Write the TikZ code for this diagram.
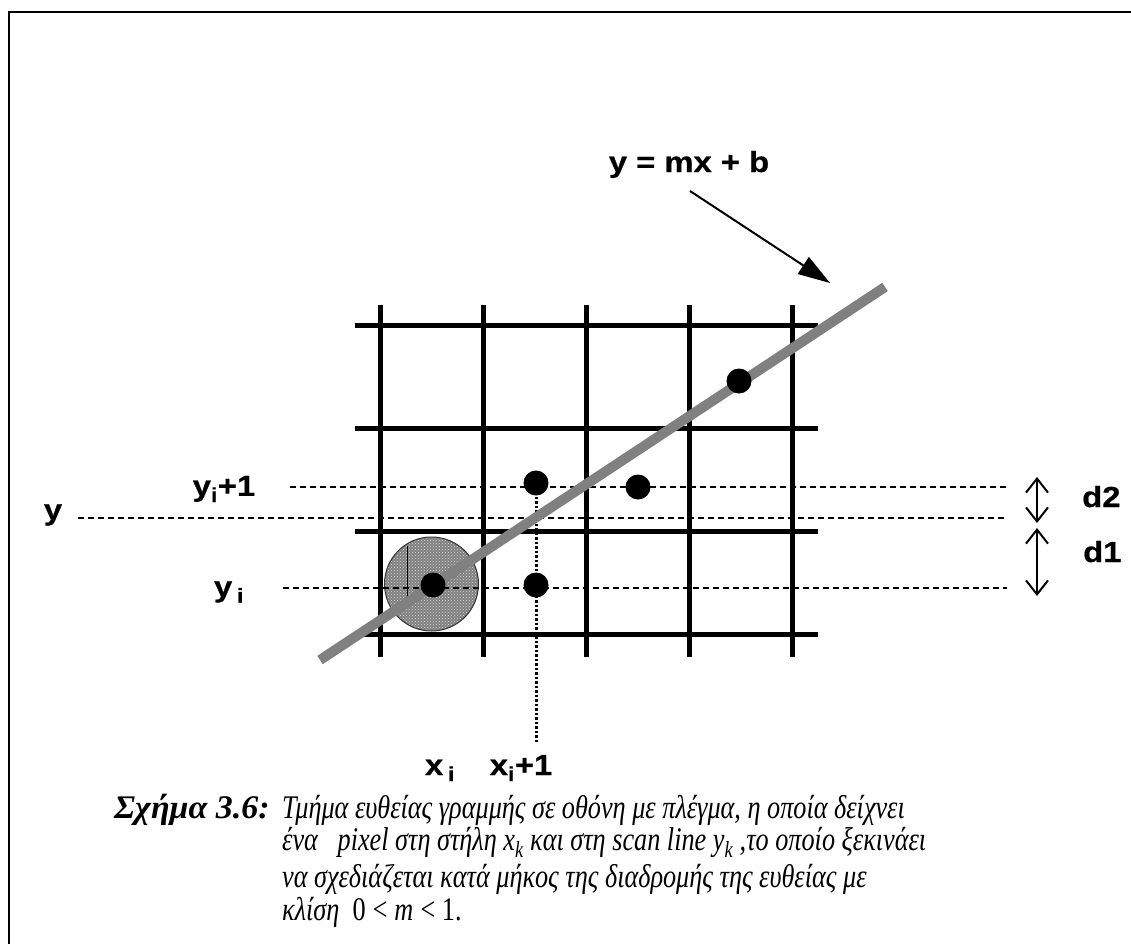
\documentclass[tikz,border=0pt]{standalone}
\usepackage{fontspec}
\setmainfont{Liberation Serif}
\newfontfamily\labfont[FakeStretch=1.13, BoldFeatures={FakeBold=0.6}]{Liberation Sans}
\newfontfamily\capfont[FakeStretch=0.795]{Liberation Serif}
\newfontfamily\capboldfont[FakeStretch=1.03]{Liberation Serif}
\usetikzlibrary{arrows.meta,patterns}
\begin{document}
\begin{tikzpicture}[x=1pt,y=-1pt,
  labtext/.style={font=\labfont\bfseries\fontsize{29}{33}\selectfont, inner sep=0pt},
  captext/.style={font=\capfont\itshape\fontsize{33}{37}\selectfont, anchor=base west, inner sep=0pt},
  capbold/.style={font=\capboldfont\bfseries\itshape\fontsize{33}{37}\selectfont, anchor=base west, inner sep=0pt},
  gridline/.style={line width=5pt},
  guide/.style={line width=1.3pt, dash pattern=on 6pt off 4pt},
  dotnode/.style={circle, fill=black, minimum size=25pt, inner sep=0pt},
  dblarrow/.style={line width=2pt, {Straight Barb[length=14pt,width=22pt]}-{Straight Barb[length=14pt,width=22pt]}},
  frameline/.style={line width=2.6pt}]
\useasboundingbox (0,0) rectangle (1131,944);
% frame
\draw[frameline] (1131,12) -- (9,12) -- (9,944);
% grid
\foreach \x in {380,483,586,689,792} \draw[gridline] (\x,305) -- (\x,657);
\foreach \y in {325,428,531,634} \draw[gridline] (355,\y) -- (818,\y);
% shaded pixel
\fill[black!50] (431.5,584) circle (47);
\fill[pattern=crosshatch dots, pattern color=black!15] (431.5,584) circle (47);
\draw[line width=1pt, black!80] (431.5,584) circle (47);
\draw[line width=0.8pt] (407,546) -- (407,598);
% guide lines
\draw[guide] (290,487) -- (1007,487);
\draw[guide] (78,518) -- (1007,518);
\draw[guide] (283,588) -- (1007,588);
% dotted vertical
\draw[line width=3pt, dash pattern=on 2.5pt off 2pt] (536,483) -- (536,742);
% scan line
\draw[line width=10pt, gray] (320,660) -- (885,287);
% pixels
\node[dotnode] (p0) at (433,585) {};
\node[dotnode] (p1) at (536,585) {};
\node[dotnode] (p2) at (536,483) {};
\node[dotnode] (p3) at (638,487) {};
\node[dotnode] (p4) at (739,381) {};
% equation label and arrow
\node[labtext, anchor=base] (eq) at (689,172) {y = mx + b};
\coordinate (astart) at (690,191);
\coordinate (tip) at (830,283);
\draw[line width=2pt, -{Triangle[length=32pt,width=20pt]}] (astart) -- (tip);
% axis labels
\node[labtext] (ylab) at (53,515) {y};
\node[labtext] (yi1) at (224,489) {y\textsubscript{i}+1};
\node[labtext] (yi) at (229,592) {y\,\textsubscript{i}};
\node[labtext, anchor=base] (xi) at (440,775) {x\,\textsubscript{i}};
\node[labtext, anchor=base] (xi1) at (521,775) {x\textsubscript{i}+1};
% distance arrows
\coordinate (d2t) at (1037,477);
\coordinate (d2b) at (1037,523);
\coordinate (d1t) at (1037,528);
\coordinate (d1b) at (1037,596);
\draw[dblarrow] (d2t) -- (d2b);
\draw[dblarrow] (d1t) -- (d1b);
\node[labtext, anchor=base west] (d2) at (1082,507) {d2};
\node[labtext, anchor=base west] (d1) at (1083,562) {d1};
% caption
\node[capbold] (c0) at (114,818) {Σχήμα 3.6:};
\node[captext] (c1) at (282,818) {Τμήμα ευθείας γραμμής σε οθόνη με πλέγμα, η οποία δείχνει};
\node[captext] (c2) at (282,850) {ένα\ \ \ pixel στη στήλη \smash{x\textsubscript{k}} και στη scan line \smash{y\textsubscript{k}} ,το οποίο ξεκινάει};
\node[captext] (c3) at (282,887) {να σχεδιάζεται κατά μήκος της διαδρομής της ευθείας με};
\node[captext] (c4) at (282,920) {κλίση\ \ {\upshape 0}\,<\,m\,<\,{\upshape 1.}};
\end{tikzpicture}
\end{document}
